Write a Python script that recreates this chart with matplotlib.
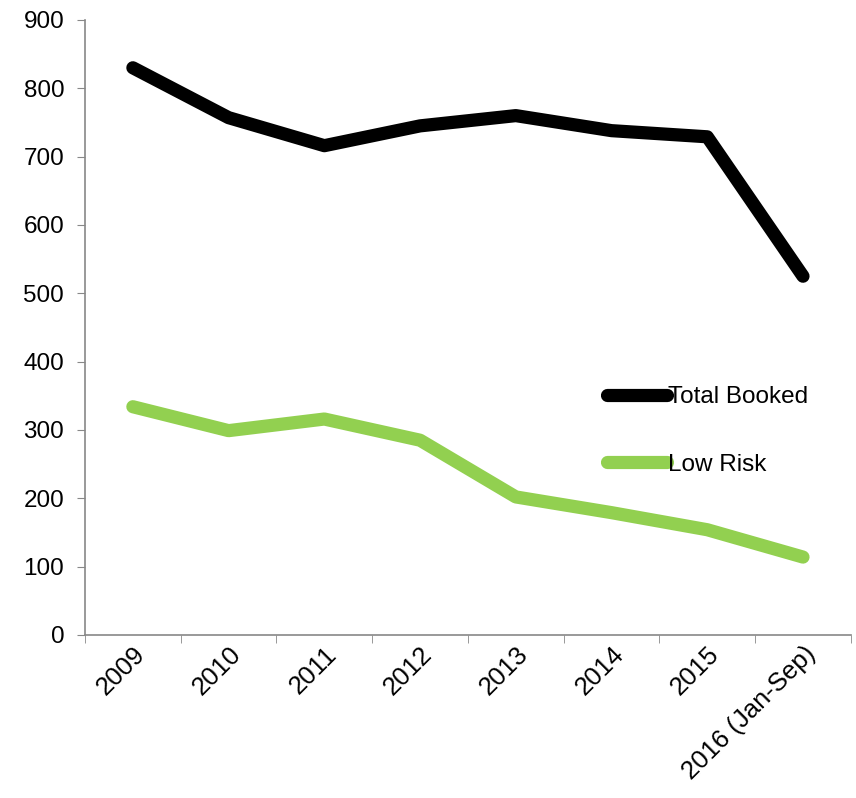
import matplotlib as mpl
mpl.use('Agg')
import matplotlib.pyplot as plt
import numpy as np

years = ['2009', '2010', '2011', '2012', '2013', '2014', '2015', '2016 (Jan-Sep)']
total_booked = [830, 757, 716, 745, 760, 738, 729, 525]
low_risk = [334, 299, 316, 285, 202, 179, 154, 114]

plt.rcParams['font.family'] = ['Liberation Sans', 'DejaVu Sans']
FS = 17.5

fig = plt.figure(figsize=(8.56, 7.98), dpi=100)
ax = fig.add_axes([0.0993, 0.2043, 0.8947, 0.7707])

x = np.arange(len(years))
ax.plot(x, total_booked, color='black', lw=9.5, solid_capstyle='round',
        solid_joinstyle='round', label='Total Booked')
ax.plot(x, low_risk, color='#92D050', lw=9.5, solid_capstyle='round',
        solid_joinstyle='round', label='Low Risk')

ax.set_xlim(-0.5, len(years) - 0.5)
ax.set_ylim(0, 900)
ax.set_yticks(range(0, 901, 100))

ax.set_xticks(x)
ax.set_xticklabels(years, rotation=45, ha='right', rotation_mode='anchor', fontsize=18.5)
ax.set_xticks(np.arange(-0.5, len(years)), minor=True)
ax.tick_params(axis='x', which='major', length=0, pad=5)
ax.tick_params(axis='x', which='minor', length=5.5, color='#888888', direction='out')
ax.tick_params(axis='y', length=6, color='#888888', labelsize=FS, pad=9)

for s in ['top', 'right']:
    ax.spines[s].set_visible(False)
for s in ['left', 'bottom']:
    ax.spines[s].set_color('#888888')
    ax.spines[s].set_linewidth(1.2)

leg = ax.legend(loc='upper left', bbox_to_anchor=(0.653, 0.44), frameon=False,
                fontsize=FS, handlelength=2.47, handletextpad=0.05, labelspacing=1.88)

fig.savefig('out.png', dpi=100)
